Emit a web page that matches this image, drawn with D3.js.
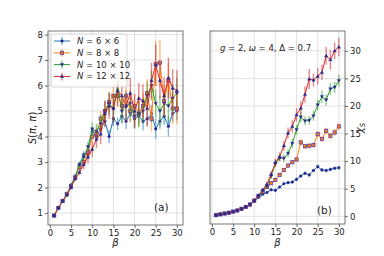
<!DOCTYPE html>
<html>
<head>
<meta charset="utf-8">
<script src="https://cdn.jsdelivr.net/npm/d3@7"></script>
<style>
  body { margin: 0; background: #fff; }
  svg text { font-family: "DejaVu Sans", sans-serif; fill: #222; }
</style>
</head>
<body>
<svg id="chart" width="384" height="256"></svg>
<script>
const betas = d3.range(1, 31);
const seriesNames = ["6 × 6", "8 × 8", "10 × 10", "12 × 12"];
const colors = ["#1f77b4", "#ff7f0e", "#2ca02c", "#d62728"];
const markers = ["circle", "square", "down", "up"];

// panel (a): S(pi, pi)
const sPi6 = [0.9, 1.2, 1.47, 1.75, 2.1, 2.45, 2.9, 3.3, 3.3, 4.2, 4.0, 4.3, 4.6, 4.0, 4.7, 4.5, 4.8, 4.6, 4.9, 4.7, 4.8, 4.6, 4.7, 4.9, 4.3, 4.6, 4.8, 4.4, 4.9, 5.0];
const sPi8 = [0.9, 1.2, 1.47, 1.75, 2.05, 2.4, 2.8, 3.0, 3.4, 4.0, 4.1, 4.7, 5.0, 5.35, 5.6, 5.6, 5.2, 5.6, 5.0, 5.2, 4.9, 5.2, 5.7, 4.7, 6.85, 6.9, 5.4, 6.2, 5.1, 5.1];
const sPi10 = [0.9, 1.2, 1.47, 1.72, 2.05, 2.4, 2.9, 3.2, 3.6, 4.3, 4.2, 4.5, 5.0, 5.3, 5.1, 6.0, 5.0, 5.2, 5.3, 4.8, 4.9, 5.0, 5.6, 6.0, 5.3, 5.0, 5.3, 5.2, 5.5, 5.7];
const sPi12 = [0.9, 1.2, 1.47, 1.7, 2.0, 2.35, 2.6, 2.9, 3.2, 3.5, 3.9, 4.1, 4.9, 5.2, 5.1, 5.8, 5.6, 5.2, 5.7, 5.0, 5.5, 5.4, 5.1, 6.2, 6.8, 6.2, 5.6, 6.3, 5.9, 5.8];
const sPiErr6 = [0.02, 0.03, 0.04, 0.05, 0.06, 0.08, 0.1, 0.12, 0.15, 0.15, 0.2, 0.2, 0.25, 0.25, 0.3, 0.25, 0.3, 0.3, 0.3, 0.35, 0.3, 0.35, 0.3, 0.35, 0.4, 0.3, 0.35, 0.4, 0.3, 0.35];
const sPiErr8 = [0.02, 0.03, 0.04, 0.05, 0.06, 0.08, 0.1, 0.12, 0.15, 0.2, 0.25, 0.3, 0.35, 0.4, 0.4, 0.45, 0.4, 0.5, 0.45, 0.5, 0.5, 0.5, 0.55, 0.5, 0.9, 0.9, 0.6, 0.7, 0.6, 0.6];
const sPiErr10 = [0.02, 0.03, 0.04, 0.05, 0.06, 0.08, 0.12, 0.15, 0.2, 0.25, 0.3, 0.35, 0.4, 0.45, 0.5, 0.5, 0.45, 0.5, 0.5, 0.5, 0.55, 0.5, 0.55, 0.6, 0.55, 0.6, 0.5, 0.6, 0.55, 0.6];
const sPiErr12 = [0.02, 0.03, 0.04, 0.05, 0.07, 0.1, 0.12, 0.18, 0.25, 0.3, 0.35, 0.4, 0.5, 0.5, 0.55, 0.6, 0.55, 0.6, 0.6, 0.65, 0.6, 0.65, 0.7, 0.7, 0.8, 0.7, 0.75, 0.8, 0.75, 0.8];

// panel (b): chi_S
const chi6 = [0.2, 0.35, 0.5, 0.65, 0.85, 1.05, 1.35, 1.7, 2.1, 2.7, 3.4, 4.0, 4.3, 4.8, 4.7, 5.3, 5.9, 6.1, 6.2, 6.7, 7.3, 7.8, 7.5, 8.3, 9.0, 8.4, 8.3, 8.5, 8.7, 8.8];
const chi8 = [0.2, 0.35, 0.5, 0.65, 0.85, 1.05, 1.35, 1.7, 2.1, 2.8, 3.7, 4.4, 5.3, 6.0, 6.6, 7.5, 8.4, 9.2, 9.8, 10.3, 13.4, 12.7, 12.8, 12.9, 14.9, 14.0, 15.5, 14.6, 15.2, 16.3];
const chi10 = [0.2, 0.35, 0.5, 0.65, 0.85, 1.05, 1.35, 1.7, 2.2, 2.9, 3.7, 4.6, 5.5, 7.3, 9.5, 10.6, 10.5, 11.4, 13.2, 15.7, 18.0, 17.3, 17.4, 18.2, 20.2, 21.7, 21.1, 23.1, 23.4, 24.6];
const chi12 = [0.2, 0.35, 0.5, 0.65, 0.85, 1.05, 1.35, 1.7, 2.2, 2.9, 3.8, 4.8, 5.8, 7.6, 9.8, 10.8, 12.8, 15.1, 16.3, 18.4, 19.6, 22.1, 24.9, 24.7, 25.4, 26.1, 29.1, 28.4, 30.0, 30.7];
const chiErr6 = [0.02, 0.02, 0.03, 0.03, 0.04, 0.05, 0.05, 0.06, 0.08, 0.1, 0.1, 0.12, 0.12, 0.15, 0.15, 0.15, 0.2, 0.2, 0.2, 0.2, 0.25, 0.25, 0.25, 0.25, 0.3, 0.3, 0.3, 0.3, 0.3, 0.3];
const chiErr8 = [0.02, 0.02, 0.03, 0.03, 0.04, 0.05, 0.06, 0.08, 0.1, 0.12, 0.15, 0.2, 0.2, 0.25, 0.25, 0.3, 0.3, 0.35, 0.35, 0.4, 0.6, 0.45, 0.45, 0.5, 0.6, 0.5, 0.6, 0.55, 0.6, 0.65];
const chiErr10 = [0.02, 0.02, 0.03, 0.03, 0.04, 0.05, 0.06, 0.08, 0.1, 0.15, 0.2, 0.3, 0.4, 0.5, 0.6, 0.6, 0.7, 0.7, 0.8, 0.9, 1.0, 0.8, 0.8, 0.9, 1.0, 1.1, 1.0, 1.1, 1.0, 1.1];
const chiErr12 = [0.02, 0.02, 0.03, 0.03, 0.04, 0.05, 0.06, 0.08, 0.12, 0.18, 0.25, 0.35, 0.45, 0.6, 0.7, 0.8, 0.9, 1.0, 1.1, 1.2, 1.2, 1.5, 1.8, 1.2, 1.5, 1.4, 1.6, 1.8, 1.5, 1.7];

const sPiTicks = [1, 2, 3, 4, 5, 6, 7, 8];
const chiTicks = [0, 5, 10, 15, 20, 25, 30];
const betaTicks = [0, 5, 10, 15, 20, 25, 30];

const svg = d3.select("#chart");
const markColor = "#27288f";

function drawMarker(g, kind, x, y, fill) {
  if (kind === "circle") {
    g.append("circle").attr("cx", x).attr("cy", y).attr("r", 1.3)
      .attr("fill", markColor).attr("stroke", markColor).attr("stroke-width", 0.5);
  } else if (kind === "square") {
    g.append("rect").attr("x", x - 1.6).attr("y", y - 1.6).attr("width", 3.2).attr("height", 3.2)
      .attr("fill", fill).attr("stroke", "#5b3fa8").attr("stroke-width", 0.8);
  } else {
    const s = kind === "up" ? -1 : 1;
    g.append("path")
      .attr("d", `M${x - 1.7},${y - s * 1.2}L${x + 1.7},${y - s * 1.2}L${x},${y + s * 1.7}Z`)
      .attr("fill", markColor).attr("stroke", markColor).attr("stroke-width", 0.4);
  }
}

function drawPanel(opts) {
  const { left, right, top, bottom, yDomain, yTicks, series, errors, yRight } = opts;
  const x = d3.scaleLinear().domain([-0.45, 31.45]).range([left, right]);
  const y = d3.scaleLinear().domain(yDomain).range([bottom, top]);
  const g = svg.append("g");

  // grid
  g.append("g").selectAll("line").data(betaTicks).join("line")
    .attr("x1", (d) => x(d)).attr("x2", (d) => x(d)).attr("y1", top).attr("y2", bottom)
    .attr("stroke", "#d9d9d9").attr("stroke-width", 0.8);
  g.append("g").selectAll("line").data(yTicks).join("line")
    .attr("x1", left).attr("x2", right).attr("y1", (d) => y(d)).attr("y2", (d) => y(d))
    .attr("stroke", "#d9d9d9").attr("stroke-width", 0.8);

  const line = d3.line().x((d, i) => x(betas[i])).y((d) => y(d));

  series.forEach((vals, s) => {
    const sg = g.append("g");
    sg.selectAll("line.err").data(vals).join("line").attr("class", "err")
      .attr("x1", (d, i) => x(betas[i])).attr("x2", (d, i) => x(betas[i]))
      .attr("y1", (d, i) => y(d - errors[s][i])).attr("y2", (d, i) => y(d + errors[s][i]))
      .attr("stroke", colors[s]).attr("stroke-opacity", 0.55).attr("stroke-width", 1.4);
    sg.append("path").datum(vals).attr("d", line)
      .attr("fill", "none").attr("stroke", colors[s]).attr("stroke-width", 1);
    vals.forEach((d, i) => drawMarker(sg, markers[s], x(betas[i]), y(d), colors[s]));
  });

  // spines
  g.append("rect").attr("x", left).attr("y", top).attr("width", right - left).attr("height", bottom - top)
    .attr("fill", "none").attr("stroke", "#555").attr("stroke-width", 0.8);

  const xAxis = g.append("g").attr("transform", `translate(0,${bottom})`)
    .call(d3.axisBottom(x).tickValues(betaTicks).tickSize(3).tickPadding(1.5));
  const yAxis = g.append("g").attr("transform", `translate(${yRight ? right : left},0)`)
    .call((yRight ? d3.axisRight(y) : d3.axisLeft(y)).tickValues(yTicks).tickSize(3).tickPadding(2));
  [xAxis, yAxis].forEach((a) => {
    a.select(".domain").remove();
    a.selectAll("line").attr("stroke", "#444").attr("stroke-width", 0.8);
    a.selectAll("text").attr("font-size", 8.5).attr("fill", "#222")
      .attr("font-family", "DejaVu Sans, sans-serif");
  });

  g.append("text").attr("x", (left + right) / 2).attr("y", 246).attr("text-anchor", "middle")
    .attr("font-size", 10).attr("font-style", "italic").text("β");
  return g;
}

drawPanel({
  left: 48, right: 183, top: 31, bottom: 225,
  yDomain: [0.53, 8.14], yTicks: sPiTicks,
  series: [sPi6, sPi8, sPi10, sPi12], errors: [sPiErr6, sPiErr8, sPiErr10, sPiErr12], yRight: false
});
drawPanel({
  left: 210, right: 345, top: 31, bottom: 224,
  yDomain: [-1.4, 33.6], yTicks: chiTicks,
  series: [chi6, chi8, chi10, chi12], errors: [chiErr6, chiErr8, chiErr10, chiErr12], yRight: true
});

// y labels
const yl = svg.append("text").attr("transform", "translate(36,128) rotate(-90)")
  .attr("text-anchor", "middle").attr("font-size", 10);
yl.append("tspan").attr("font-style", "italic").text("S");
yl.append("tspan").text("(");
yl.append("tspan").attr("font-style", "italic").text("π");
yl.append("tspan").text(", ");
yl.append("tspan").attr("font-style", "italic").text("π");
yl.append("tspan").text(")");

const yr = svg.append("text").attr("transform", "translate(363,128) rotate(-90)")
  .attr("text-anchor", "middle").attr("font-size", 10);
yr.append("tspan").attr("font-style", "italic").text("χ");
yr.append("tspan").attr("font-style", "italic").attr("font-size", 7).attr("dy", 2).text("S");

// panel tags
svg.append("text").attr("x", 154).attr("y", 211).attr("font-size", 10.5).text("(a)");
svg.append("text").attr("x", 317).attr("y", 214).attr("font-size", 10.5).text("(b)");

// annotation
const ann = svg.append("text").attr("x", 220).attr("y", 51).attr("font-size", 8.5);
ann.append("tspan").attr("font-style", "italic").text("g");
ann.append("tspan").text(" = 2, ");
ann.append("tspan").attr("font-style", "italic").text("ω");
ann.append("tspan").text(" = 4, Δ = 0.7");

// legend
const lg = svg.append("g");
lg.append("rect").attr("x", 51).attr("y", 34).attr("width", 76).attr("height", 53).attr("rx", 2)
  .attr("fill", "#fff").attr("fill-opacity", 0.85).attr("stroke", "#ccc").attr("stroke-width", 0.8);
seriesNames.forEach((name, i) => {
  const yy = 41 + i * 11.8;
  lg.append("line").attr("x1", 54).attr("x2", 70).attr("y1", yy).attr("y2", yy)
    .attr("stroke", colors[i]).attr("stroke-width", 1);
  lg.append("line").attr("x1", 62).attr("x2", 62).attr("y1", yy - 4).attr("y2", yy + 4)
    .attr("stroke", colors[i]).attr("stroke-opacity", 0.55).attr("stroke-width", 1.4);
  drawMarker(lg, markers[i], 62, yy, colors[i]);
  const t = lg.append("text").attr("x", 77).attr("y", yy + 3).attr("font-size", 8.5);
  t.append("tspan").attr("font-style", "italic").text("N");
  t.append("tspan").text(" = " + name);
});
</script>
</body>
</html>
